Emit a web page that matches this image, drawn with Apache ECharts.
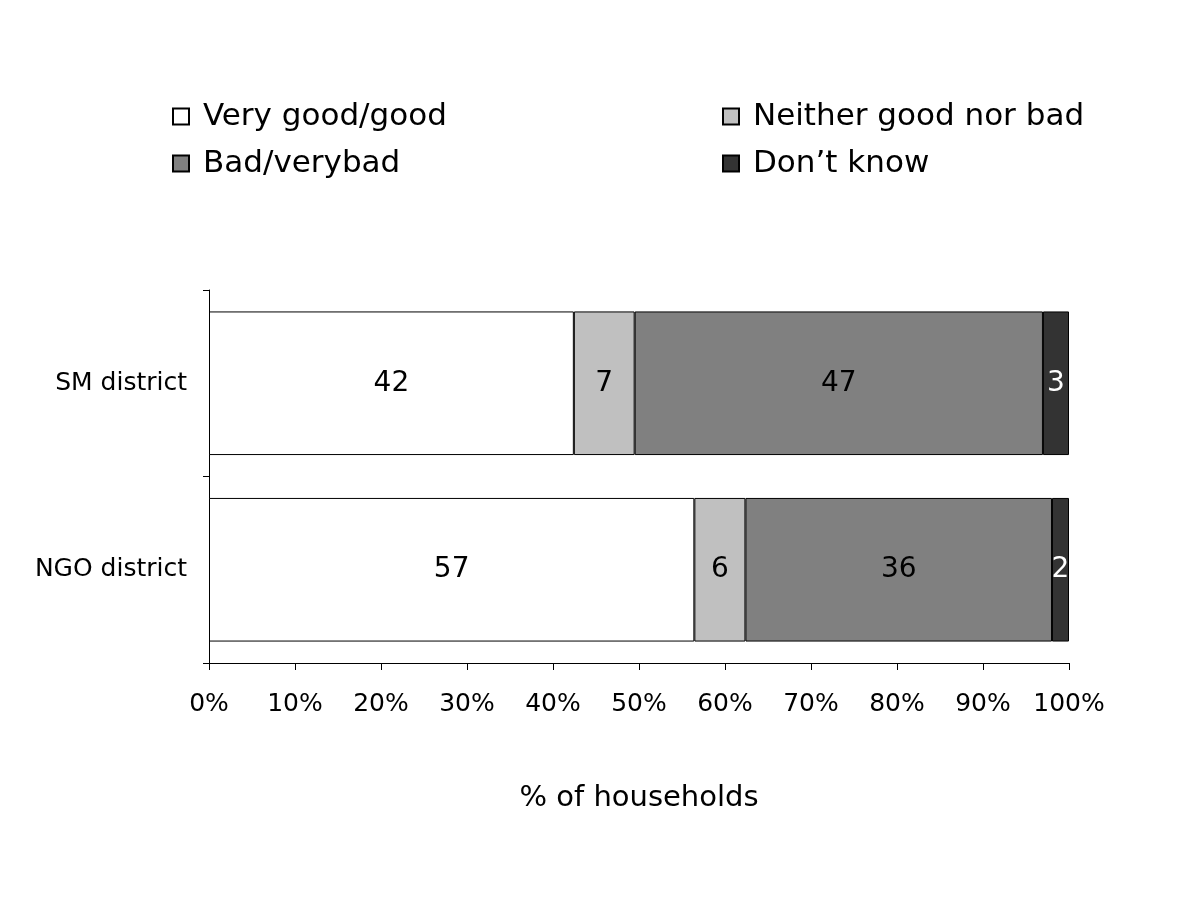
<!DOCTYPE html>
<html>
<head>
<meta charset="utf-8">
<style>
  html, body { margin: 0; padding: 0; background: #fff; }
  #chart { width: 1200px; height: 900px; }
</style>
<script src="https://cdn.jsdelivr.net/npm/echarts@6/dist/echarts.min.js"></script>
</head>
<body>
<div id="chart"></div>
<script>
const districts = ['SM district', 'NGO district'];
const seriesNames = ['Very good/good', 'Neither good nor bad', 'Bad/verybad', 'Don\u2019t know'];
const seriesColors = ['#ffffff', '#c0c0c0', '#808080', '#333333'];
const labelColors = ['#000', '#000', '#000', '#fff'];
// raw answer shares as printed on the bars (rows do not sum exactly to 100)
const veryGood = [42, 57];
const neither = [7, 6];
const bad = [47, 36];
const dontKnow = [3, 2];
const xTicks = [0, 10, 20, 30, 40, 50, 60, 70, 80, 90, 100];

const rows = [veryGood, neither, bad, dontKnow];
const totals = districts.map((_, i) => rows.reduce((s, r) => s + r[i], 0));

const font = 'DejaVu Sans';
const chart = echarts.init(document.getElementById('chart'));

const series = rows.map((vals, k) => ({
  name: seriesNames[k],
  type: 'bar',
  stack: 'all',
  barWidth: '77%',
  itemStyle: { color: seriesColors[k], borderColor: '#000', borderWidth: 1 },
  label: {
    show: true,
    position: 'inside',
    color: labelColors[k],
    fontFamily: font,
    fontSize: 28,
    formatter: (p) => String(vals[p.dataIndex])
  },
  emphasis: { disabled: true },
  data: vals.map((v, i) => v / totals[i] * 100)
}));

const legendBase = {
  orient: 'vertical',
  top: 96,
  itemGap: 16,
  itemWidth: 16,
  itemHeight: 16,
  icon: 'rect',
  selectedMode: false,
  textStyle: { fontFamily: font, fontSize: 31, color: '#000', padding: [0, 0, 0, 9] }
};

chart.setOption({
  animation: false,
  legend: [
    Object.assign({}, legendBase, { left: 167, data: [seriesNames[0], seriesNames[2]] }),
    Object.assign({}, legendBase, { left: 717, data: [seriesNames[1], seriesNames[3]] })
  ],
  grid: { left: 209, right: 131, top: 290, bottom: 237 },
  xAxis: {
    type: 'value',
    min: xTicks[0],
    max: xTicks[xTicks.length - 1],
    interval: xTicks[1] - xTicks[0],
    name: '% of households',
    nameLocation: 'middle',
    nameGap: 135,
    nameTextStyle: { fontFamily: font, fontSize: 29, color: '#000', verticalAlign: 'middle' },
    axisLine: { show: true, lineStyle: { color: '#000', width: 1 } },
    axisTick: { show: true, length: 7, lineStyle: { color: '#000' } },
    axisLabel: { fontFamily: font, fontSize: 25, color: '#000', margin: 29, formatter: '{value}%' },
    splitLine: { show: false }
  },
  yAxis: {
    type: 'category',
    inverse: true,
    data: districts,
    axisLine: { show: true, lineStyle: { color: '#000', width: 1 } },
    axisTick: { show: true, length: 6, lineStyle: { color: '#000' } },
    axisLabel: { fontFamily: font, fontSize: 25, color: '#000', margin: 22 }
  },
  series: series
});
</script>
</body>
</html>
